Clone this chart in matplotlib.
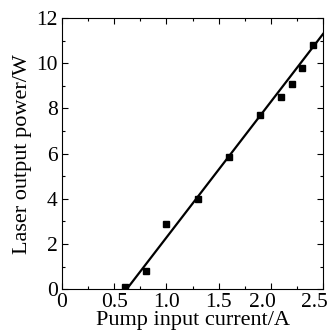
import matplotlib.pyplot as plt
import matplotlib.transforms as mtransforms
from matplotlib.ticker import MultipleLocator

# measured points
current = [0.6, 0.8, 1.0, 1.3, 1.6, 1.9, 2.1, 2.2, 2.3, 2.4]
power = [0.1, 0.8, 2.9, 4.0, 5.85, 7.7, 8.5, 9.1, 9.8, 10.8]

# linear fit line end points
fit_x = [0.62, 2.5]
fit_y = [0.0, 11.3]

xticks = [0, 0.5, 1.0, 1.5, 2.0, 2.5]
xticklabels = ["0", "0.5", "1.0", "1.5", "2.0", "2.5"]

plt.rcParams["font.family"] = "Liberation Serif"

fig = plt.figure(figsize=(3.28, 3.35), dpi=100)
ax = fig.add_axes([0.189, 0.137, 0.796, 0.809])

ax.plot(fit_x, fit_y, color="black", linewidth=1.6)
ax.plot(current, power, linestyle="none", marker="s", color="black", markersize=4.5)

ax.set_xlim(0, 2.5)
ax.set_ylim(0, 12)
ax.xaxis.set_minor_locator(MultipleLocator(0.25))
ax.yaxis.set_major_locator(MultipleLocator(2))
ax.yaxis.set_minor_locator(MultipleLocator(1))
ax.set_xticks(xticks)
ax.set_xticklabels(xticklabels)

ax.tick_params(which="both", direction="in", top=True, right=True, labelsize=15.5, pad=3)
ax.tick_params(which="major", length=4.5, width=0.8)
ax.tick_params(which="minor", length=2.5, width=0.8)

# the last label sits a bit left of its tick, as in the source figure
shift = mtransforms.ScaledTranslation(-6 / 72, 0, fig.dpi_scale_trans)
for lab in ax.get_xticklabels()[-2:]:
    lab.set_transform(lab.get_transform() + shift)

ax.set_xlabel("Pump input current/A", fontsize=16, labelpad=-1)
ax.set_ylabel("Laser output power/W", fontsize=16, labelpad=3)

fig.savefig("out.png", dpi=100)
